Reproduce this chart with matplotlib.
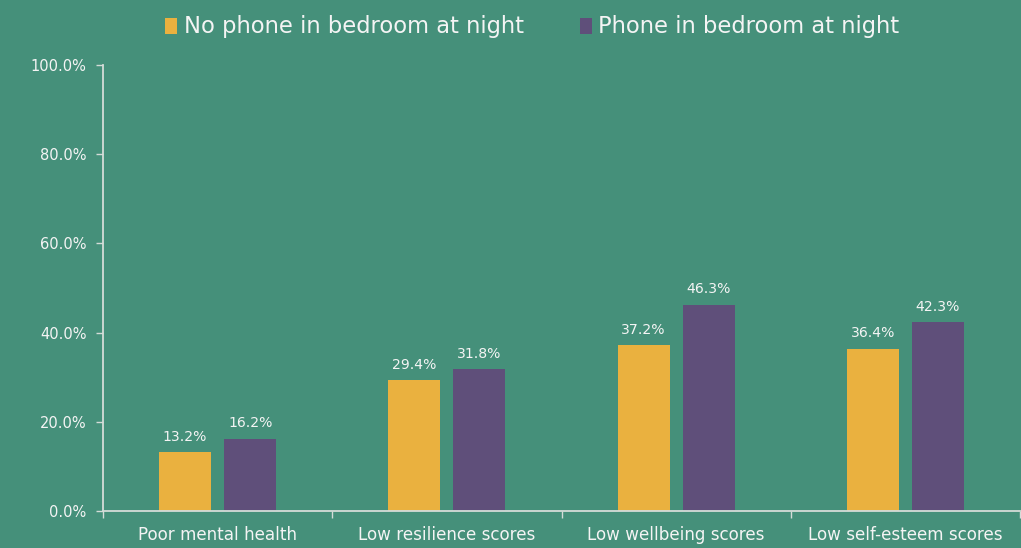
import matplotlib
matplotlib.use("Agg")
import matplotlib.pyplot as plt
import numpy as np
from matplotlib.patches import Patch

plt.rcParams['font.family'] = ['DejaVu Sans']

categories = ["Poor mental health", "Low resilience scores", "Low wellbeing scores", "Low self-esteem scores"]
no_phone = [13.2, 29.4, 37.2, 36.4]
phone = [16.2, 31.8, 46.3, 42.3]
series_names = ["No phone in bedroom at night", "Phone in bedroom at night"]
y_ticks = [0, 20, 40, 60, 80, 100]

BG = "#45907A"
YELLOW = "#EAB13F"
PURPLE = "#5F4F7A"
AXIS = "#D4DCD8"
TEXT = "#F4F4F4"

fig = plt.figure(figsize=(10.21, 5.48), dpi=100, facecolor=BG)
ax = fig.add_axes([103 / 1021, 1 - 511 / 548, 917 / 1021, 446 / 548])
ax.set_facecolor(BG)

x = np.arange(len(categories))
w = 0.227
off = 0.142
b1 = ax.bar(x - off, no_phone, w, color=YELLOW, zorder=2)
b2 = ax.bar(x + off, phone, w, color=PURPLE, zorder=2)

for bars, vals in ((b1, no_phone), (b2, phone)):
    for rect, v in zip(bars, vals):
        ax.annotate(f"{v:.1f}%", (rect.get_x() + rect.get_width() / 2, v),
                    xytext=(0, 6), textcoords="offset points",
                    ha="center", va="bottom", color=TEXT, fontsize=10.1)

ax.set_xlim(-0.5, len(categories) - 0.5)
ax.set_ylim(0, 100)
ax.set_yticks(y_ticks)
ax.set_yticklabels([f"{t:.1f}%" for t in y_ticks], color=TEXT, fontsize=10.5)
ax.tick_params(axis="y", length=5, width=1, color=AXIS, pad=7)

ax.set_xticks(x)
ax.set_xticklabels(categories, color=TEXT, fontsize=12.1)
ax.set_xticks(np.arange(-0.5, len(categories)), minor=True)
ax.tick_params(axis="x", which="major", length=0, pad=11)
ax.tick_params(axis="x", which="minor", length=5, width=1, color=AXIS)

for side in ("top", "right"):
    ax.spines[side].set_visible(False)
for side in ("left", "bottom"):
    ax.spines[side].set_color(AXIS)
    ax.spines[side].set_linewidth(1.3)

handles = [Patch(facecolor=YELLOW), Patch(facecolor=PURPLE)]
leg = fig.legend(handles, series_names, loc="center", bbox_to_anchor=(0.5215, 1 - 27 / 548),
                 ncol=2, frameon=False, fontsize=16.3, handlelength=0.5, handleheight=0.7,
                 handletextpad=0.3, columnspacing=2.5, labelcolor=TEXT)

fig.savefig("out.png", dpi=100, facecolor=BG)
